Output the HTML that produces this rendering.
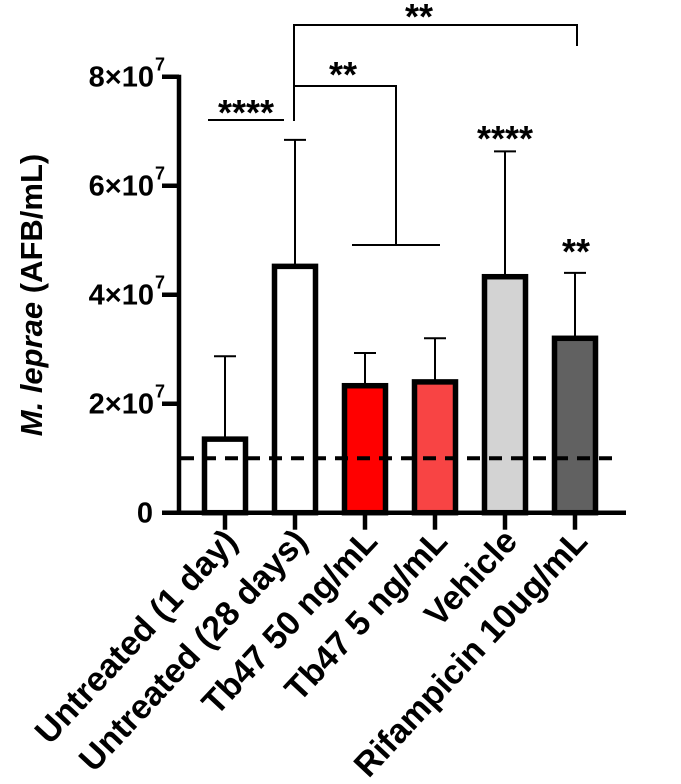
<!DOCTYPE html>
<html><head><meta charset="utf-8"><style>
body{margin:0;background:#fff}
svg{display:block;font-family:"Liberation Sans",Arial,sans-serif}
</style></head><body>
<svg id="chart" width="681" height="784" viewBox="0 0 681 784">
<g id="axes"></g><g id="bars"></g><g id="annot"></g>
</svg>
<script>
const categories=["Untreated (1 day)","Untreated (28 days)","Tb47 50 ng/mL","Tb47 5 ng/mL","Vehicle","Rifampicin 10ug/mL"];
const means=[1.35e7,4.52e7,2.33e7,2.4e7,4.33e7,3.2e7];
const errors=[1.52e7,2.32e7,0.6e7,0.8e7,2.3e7,1.2e7];
const fills=["#ffffff","#ffffff","#ff0000","#f84444","#d3d3d3","#616161"];
const yTicks=[0,2e7,4e7,6e7,8e7];
const yTickLabels=["0","2×10","4×10","6×10","8×10"];
const threshold=1e7;
const NS="http://www.w3.org/2000/svg";
const y0=512.7, yPer=54.5/1e7;
function y(v){return y0-v*yPer;}
function x(i){return 225+70*i;}
function mk(tag,attrs,parent,text){const e=document.createElementNS(NS,tag);for(const k in attrs)e.setAttribute(k,attrs[k]);if(text!==undefined)e.textContent=text;parent.appendChild(e);return e;}
const axes=document.getElementById('axes'),bars=document.getElementById('bars'),annot=document.getElementById('annot');
let ya=mk('line',{x1:179,y1:y(8e7)-2,x2:179,y2:y0+2,stroke:'#000','stroke-width':4.5},axes);


let xa=mk('line',{x1:177,y1:y0,x2:626,y2:y0,stroke:'#000','stroke-width':4.5},axes);


yTicks.forEach((t,i)=>{
  let tk=mk('line',{x1:162,y1:y(t),x2:179,y2:y(t),stroke:'#000','stroke-width':4.5},axes);
  
  
  let tx=mk('text',{x:i===0?153:154,y:y(t)+10,'text-anchor':'end','font-size':29,'font-weight':'bold'},axes,yTickLabels[i]);
  
  
  if(i>0){let s=mk('text',{x:155,y:y(t)-6,'font-size':18,'font-weight':'bold'},axes,'7');
  
  }
});
let yt=mk('text',{transform:'translate(42,295) rotate(-90)','text-anchor':'middle','font-size':31,'font-weight':'bold'},axes);


mk('tspan',{'font-style':'italic'},yt,'M. leprae');
mk('tspan',{},yt,' (AFB/mL)');
categories.forEach((c,i)=>{
  const cx=x(i);
  let tk=mk('line',{x1:cx,y1:y0,x2:cx,y2:y0+17,stroke:'#000','stroke-width':4.5},axes);
  
  
  let lb=mk('text',{transform:`translate(${cx+14},${y0+30}) rotate(-47)`,'text-anchor':'end','font-size':34,'font-weight':'bold'},axes,c);
  
  
  let el=mk('line',{x1:cx,y1:y(means[i]+errors[i]),x2:cx,y2:y(means[i]),stroke:'#000','stroke-width':2},bars);
  
  
  let ec=mk('line',{x1:cx-11,y1:y(means[i]+errors[i]),x2:cx+11,y2:y(means[i]+errors[i]),stroke:'#000','stroke-width':2},bars);
  
  
  let r=mk('rect',{x:cx-20.5,y:y(means[i]),width:41,height:y0-y(means[i]),fill:fills[i],stroke:'#000','stroke-width':5.5},bars);
  
  
});
let th=mk('line',{x1:181,y1:y(threshold),x2:612,y2:y(threshold),stroke:'#000','stroke-width':4,'stroke-dasharray':'13,9'},bars);


function L(pts,name){let p=mk('polyline',{points:pts,fill:'none',stroke:'#000','stroke-width':2},annot);}
function T(tx,ty,s,name){let t=mk('text',{x:tx,y:ty,'text-anchor':'middle','font-size':36,'font-weight':'bold'},annot,s);}
L('208,120 284,120','sig-line-1');
T(246,125,'****','sig-label-1');
L('294,121 294,25 577,25 577,46','sig-bracket-top');
T(419,29,'**','sig-label-top');
L('294,86 396,86 396,245','sig-bracket-mid');
L('352,245 440,245','sig-bracket-mid-base');
T(343,87,'**','sig-label-mid');
T(505,151,'****','sig-label-vehicle');
T(576,264,'**','sig-label-rifampicin');
</script>
</body></html>
